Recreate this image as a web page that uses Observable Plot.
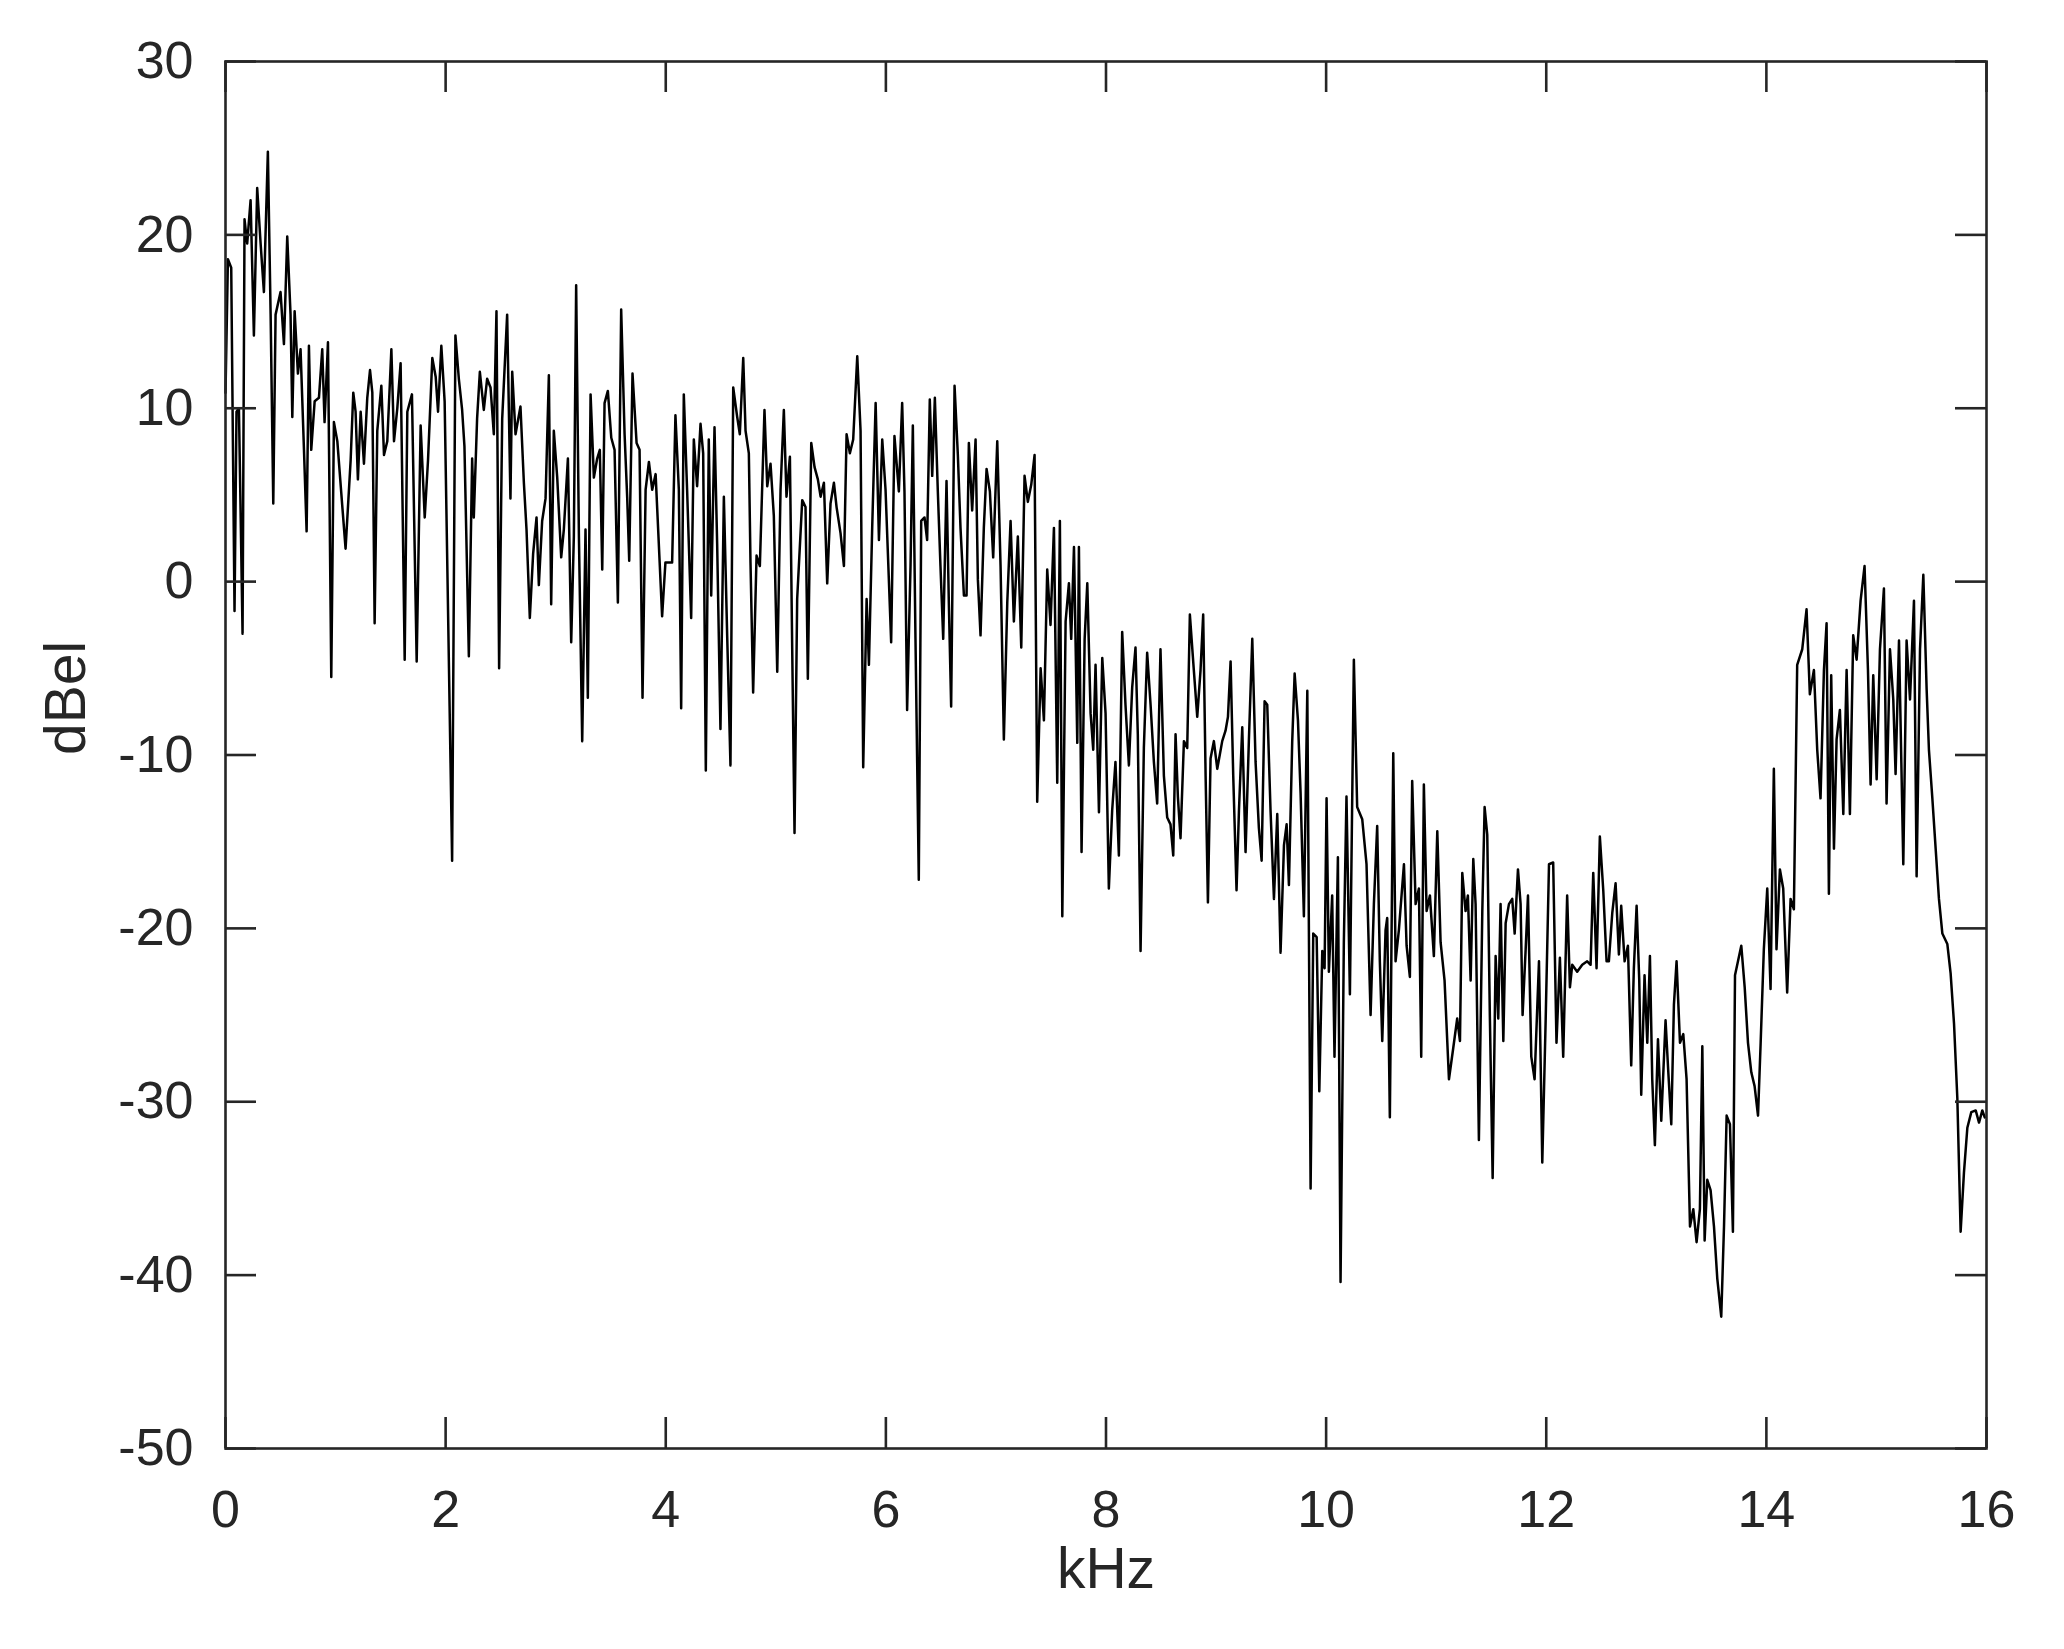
<!DOCTYPE html>
<html><head><meta charset="utf-8">
<script src="https://cdn.jsdelivr.net/npm/d3@7"></script>
<script src="https://cdn.jsdelivr.net/npm/@observablehq/plot@0.6"></script>
<style>html,body{margin:0;padding:0;background:#fff;} #chart svg{display:block}</style>
</head><body><div id="chart"></div>
<script>
const freqKHz = [
0.000,0.022,0.052,0.082,0.100,0.122,0.155,0.173,0.197,0.228,0.258,0.288,0.319,0.349,0.385,0.410,0.434,0.455,0.500,0.531,
0.561,0.591,0.607,0.628,0.658,0.682,0.713,0.737,0.758,0.779,0.810,0.849,0.879,0.900,0.931,0.961,0.985,1.016,1.052,1.091,
1.137,1.161,1.182,1.203,1.228,1.258,1.288,1.313,1.334,1.355,1.379,1.416,1.440,1.470,1.507,1.531,1.561,1.591,1.628,1.652,
1.694,1.737,1.773,1.810,1.840,1.879,1.910,1.931,1.961,1.991,
2.059,2.089,2.120,2.150,2.171,2.211,2.241,2.256,2.286,2.311,2.347,2.377,2.408,2.438,2.462,2.486,2.514,2.559,2.589,2.605,
2.635,2.680,2.711,2.735,2.765,2.795,2.826,2.847,2.877,2.908,2.938,2.959,2.983,3.014,3.050,3.074,3.111,3.141,3.165,3.186,
3.211,3.241,3.271,3.292,3.317,3.347,3.377,3.401,3.423,3.444,3.474,3.505,3.535,3.565,3.595,3.626,3.650,3.668,3.698,3.735,
3.762,3.789,3.817,3.847,3.877,3.908,
3.967,3.997,4.058,4.088,4.119,4.140,4.164,4.194,4.231,4.255,4.285,4.316,4.340,4.364,4.391,4.413,4.443,4.467,4.497,4.528,
4.558,4.588,4.613,4.649,4.673,4.704,4.725,4.755,4.770,4.794,4.825,4.855,4.897,4.922,4.952,4.982,5.013,5.043,5.073,5.097,
5.128,5.149,5.170,5.194,5.240,5.270,5.291,5.322,5.352,5.382,5.407,5.437,5.467,5.497,5.528,5.552,5.588,5.619,5.643,5.673,
5.703,5.740,5.770,5.794,5.825,5.846,5.876,5.907,5.937,5.967,5.997,
6.048,6.078,6.118,6.148,6.169,6.193,6.224,6.245,6.269,6.299,6.321,6.351,6.375,6.399,6.421,6.445,6.472,6.496,6.521,6.551,
6.572,6.593,6.624,6.654,6.678,6.709,6.733,6.754,6.784,6.815,6.836,6.860,6.890,6.915,6.945,6.975,7.012,7.042,7.072,7.103,
7.133,7.163,7.199,7.230,7.260,7.290,7.321,7.351,7.375,7.406,7.436,7.466,7.496,7.527,7.557,7.581,7.603,7.633,7.663,7.684,
7.709,7.739,7.754,7.778,7.806,7.830,7.860,7.884,7.905,7.936,7.966,7.996,
8.026,8.056,8.086,8.117,8.147,8.177,8.208,8.238,8.268,8.289,8.314,8.344,8.374,8.405,8.435,8.465,8.495,8.526,8.556,8.586,
8.611,8.632,8.653,8.677,8.708,8.738,8.762,8.798,8.829,8.859,8.883,8.905,8.926,8.950,8.980,9.011,9.056,9.086,9.108,9.132,
9.156,9.186,9.208,9.238,9.268,9.298,9.329,9.359,9.389,9.414,9.441,9.465,9.495,9.526,9.556,9.586,9.617,9.641,9.662,9.692,
9.714,9.744,9.768,9.798,9.829,9.859,9.883,9.914,9.938,9.965,9.986,
10.004,10.025,10.055,10.076,10.107,10.131,10.161,10.185,10.216,10.252,10.282,10.328,10.367,10.404,10.434,10.464,10.488,10.510,10.540,10.555,
10.579,10.610,10.631,10.661,10.707,10.731,10.761,10.782,10.813,10.843,10.864,10.888,10.913,10.943,10.979,11.010,11.040,11.076,11.116,11.155,
11.191,11.216,11.237,11.267,11.288,11.313,11.337,11.358,11.388,11.419,11.440,11.464,11.488,11.513,11.540,11.564,11.585,11.610,11.631,11.661,
11.691,11.713,11.743,11.767,11.785,11.813,11.834,11.864,11.894,11.934,11.964,11.995,12.025,
12.063,12.093,12.124,12.154,12.190,12.215,12.236,12.281,12.327,12.372,12.403,12.427,12.457,12.487,12.518,12.548,12.569,12.600,12.630,12.660,
12.681,12.712,12.742,12.772,12.796,12.821,12.845,12.863,12.893,12.918,12.942,12.963,12.987,13.015,13.045,13.084,13.109,13.136,13.160,13.184,
13.215,13.245,13.275,13.306,13.336,13.366,13.396,13.418,13.439,13.463,13.493,13.524,13.554,13.590,13.615,13.639,13.669,13.696,13.715,13.742,
13.772,13.803,13.833,13.863,13.893,13.924,13.948,
13.977,14.008,14.038,14.068,14.092,14.123,14.153,14.189,14.220,14.250,14.280,14.326,14.365,14.395,14.432,14.462,14.492,14.523,14.547,14.568,
14.589,14.614,14.638,14.668,14.699,14.729,14.759,14.789,14.820,14.856,14.892,14.923,14.947,14.971,15.002,15.032,15.068,15.092,15.123,15.153,
15.174,15.205,15.244,15.274,15.305,15.341,15.365,15.396,15.426,15.456,15.477,15.508,15.538,15.568,15.599,15.644,15.674,15.705,15.735,15.765,
15.795,15.826,15.862,15.902,15.932,15.962,15.984
];
const levelDb = [
10.9,18.6,18.1,-1.7,9.8,10,-3,20.9,19.5,22,14.2,22.7,19.5,16.7,24.8,15.4,4.5,15.4,16.7,13.7,
19.9,15.4,9.5,15.6,12,13.4,7.6,2.9,13.6,7.6,10.4,10.6,13.4,9.2,13.8,-5.5,9.2,8.1,5.1,1.9,
7,10.9,9.8,5.9,9.8,6.8,10.6,12.2,10.9,-2.4,8.7,11.3,7.3,8.1,13.4,8.1,10,12.6,-4.5,9.8,
10.8,-4.6,9,3.7,7,12.9,11.8,9.8,13.6,10.4,
-16.1,14.2,11.7,9.9,7.8,-4.3,7.1,3.7,9.4,12.1,9.9,11.7,11.2,8.5,15.6,-5,9.4,15.4,4.8,12.1,
8.5,10.1,5.7,3,-2.1,1.6,3.7,-0.2,3.5,4.8,11.9,-1.3,8.7,6,1.4,3,7.1,-3.5,2.6,17.1,
2.6,-9.2,3,-6.7,10.8,6,7.1,7.6,0.7,10.3,11,8.3,7.6,-1.2,15.7,8.5,4.8,1.2,12,8,
7.6,-6.7,5.3,6.9,5.3,6.2,
-2,1.1,1.1,9.6,5.3,-7.3,10.8,5.3,-2.1,8.2,5.5,9.1,7.4,-10.9,8.2,-0.8,8.9,2.2,-8.5,4.9,
-3.1,-10.6,11.2,9.5,8.5,12.9,8.7,7.4,1.1,-6.4,1.5,0.9,9.9,5.5,6.8,3.8,-5.2,5.3,9.9,4.9,
7.2,-3.9,-14.5,-1,4.7,4.3,-5.6,8,6.6,5.9,4.9,5.7,-0.1,4.5,5.7,4.3,2.8,0.9,8.5,7.4,
8.2,13,8.7,-10.7,-1,-4.8,3.2,10.3,2.4,8.2,5.3,
-3.5,8.4,5.2,10.3,5.2,-7.4,0.9,9,-3.3,-17.2,3.5,3.7,2.4,10.5,6.1,10.6,5.2,0.9,-3.3,5.8,
-1.2,-7.2,11.3,7.3,3.1,-0.8,-0.8,8,4.1,8.2,0.1,-3.1,3.1,6.5,5.2,1.4,8.1,0.9,-9.1,-1.2,
3.5,-2.3,2.6,-3.8,6.1,4.6,5.6,7.3,-12.7,-5,-8,0.7,-2.5,3.1,-11.6,3.5,-19.3,-2.3,-0.1,-3.3,
2,-9.3,2,-15.6,-3.3,-0.1,-7.6,-9.7,-4.8,-13.3,-4.4,-7.6,
-17.7,-13.2,-10.4,-15.8,-2.9,-7.1,-10.6,-6.1,-3.8,-8.8,-21.3,-9.6,-4.1,-7.1,-10.4,-12.8,-3.9,-11.2,-13.6,-14,
-15.8,-8.8,-12.4,-14.8,-9.2,-9.6,-1.9,-5.1,-7.8,-5.1,-1.9,-11.2,-18.5,-10.2,-9.2,-10.8,-9.2,-8.6,-7.8,-4.6,
-11.2,-17.8,-13.2,-8.4,-15.6,-9.2,-3.3,-10.4,-14.2,-16.1,-6.9,-7.1,-13.2,-18.3,-13.4,-21.4,-15.2,-14,-17.5,-9.2,
-5.3,-8,-12.2,-19.3,-6.3,-35,-20.3,-20.5,-29.4,-21.3,-22.3,
-12.5,-22.5,-18.1,-27.4,-15.9,-40.4,-20.8,-12.4,-23.8,-4.5,-13,-13.7,-16.3,-25,-18.6,-14.1,-21.9,-26.5,-20.1,-19.4,
-30.9,-9.9,-21.9,-20.1,-16.3,-21,-22.8,-11.5,-18.6,-17.7,-27.4,-11.7,-19,-18.1,-21.6,-14.4,-20.8,-23,-28.7,-26.9,
-25.2,-26.5,-16.8,-19,-18.1,-23,-16,-18.6,-32.2,-19,-13,-14.6,-25.2,-34.4,-21.6,-25.2,-18.6,-26.5,-19.7,-18.6,
-18.3,-20.3,-16.6,-18.6,-25,-21.2,-18.1,-27.4,-28.7,-21.9,-33.5,-25.2,-16.3,
-16.2,-26.6,-21.7,-27.4,-18.1,-23.4,-22.1,-22.5,-22.1,-21.9,-22.1,-16.8,-22.3,-14.7,-17.8,-21.9,-21.9,-19.1,-17.4,-21.5,
-18.7,-21.9,-21,-27.9,-22.3,-18.7,-23,-29.6,-22.7,-26.6,-21.6,-28.7,-32.5,-26.4,-31.1,-25.3,-28.3,-31.3,-24.4,-21.9,
-26.6,-26.1,-28.7,-37.2,-36.2,-38.1,-36.2,-26.8,-38,-34.5,-35.1,-37.2,-40.2,-42.4,-37.2,-30.8,-31.3,-37.5,-22.7,-21.9,
-21,-23.4,-26.6,-28.3,-29.1,-30.8,-26.6,
-21.2,-17.7,-23.5,-10.8,-21.2,-16.6,-17.7,-23.7,-18.3,-18.9,-4.8,-3.9,-1.6,-6.5,-5.1,-9.7,-12.5,-5.1,-2.4,-18,
-5.4,-15.4,-9.1,-7.4,-13.4,-5.1,-13.4,-3.1,-4.5,-1.1,0.9,-5.1,-11.7,-5.4,-11.4,-3.9,-0.4,-12.8,-3.9,-6.8,
-11.1,-3.4,-16.3,-3.4,-6.8,-1.1,-17,-3.9,0.4,-6.2,-9.7,-12.5,-15.4,-18.3,-20.3,-20.9,-22.6,-25.5,-29.8,-37.5,
-34.1,-31.5,-30.6,-30.5,-31.2,-30.5,-30.9
];
const xTicks = [0, 2, 4, 6, 8, 10, 12, 14, 16];
const xTickLabels = ["0", "2", "4", "6", "8", "10", "12", "14", "16"];
const yTicks = [-50, -40, -30, -20, -10, 0, 10, 20, 30];
const yTickLabels = ["-50", "-40", "-30", "-20", "-10", "0", "10", "20", "30"];
const xLabel = "kHz";
const yLabel = "dBel";

const data = freqKHz.map((f, i) => ({f, db: levelDb[i]}));
const W = 2064, H = 1649, mL = 225, mR = 78, mT = 61, mB = 201;
const plotW = W - mL - mR, plotH = H - mT - mB;
const ink = "#262626";
const tickLen = 31;
const axisW = 2.6;

const chart = Plot.plot({
  width: W, height: H,
  marginLeft: mL, marginRight: mR, marginTop: mT, marginBottom: mB,
  style: {fontFamily: '"Liberation Sans", Arial, Helvetica, sans-serif', color: ink, background: "#fff", overflow: "visible"},
  x: {domain: [0, 16]},
  y: {domain: [-50, 30]},
  marks: [
    Plot.line(data, {x: "f", y: "db", stroke: "#000", strokeWidth: 2.5, strokeLinejoin: "round"}),
    Plot.ruleX(xTicks, {stroke: ink, strokeWidth: axisW, insetTop: plotH - tickLen}),
    Plot.ruleX(xTicks, {stroke: ink, strokeWidth: axisW, insetBottom: plotH - tickLen}),
    Plot.ruleY(yTicks, {stroke: ink, strokeWidth: axisW, insetRight: plotW - tickLen}),
    Plot.ruleY(yTicks, {stroke: ink, strokeWidth: axisW, insetLeft: plotW - tickLen}),
    Plot.frame({stroke: ink, strokeWidth: axisW}),
    Plot.axisX({ticks: xTicks, tickFormat: d => xTickLabels[xTicks.indexOf(d)], tickSize: 0, tickPadding: 42, fontSize: 52, label: null}),
    Plot.axisY({ticks: yTicks, tickFormat: d => yTickLabels[yTicks.indexOf(d)], tickSize: 0, tickPadding: 32, fontSize: 52, label: null}),
    Plot.text([xLabel], {text: d => d, frameAnchor: "bottom", dy: 139, fontSize: 57, fill: ink}),
    Plot.text([yLabel], {text: d => d, frameAnchor: "left", dx: -159, rotate: -90, fontSize: 57, fill: ink})
  ]
});
document.getElementById("chart").appendChild(chart);
</script>
</body></html>
